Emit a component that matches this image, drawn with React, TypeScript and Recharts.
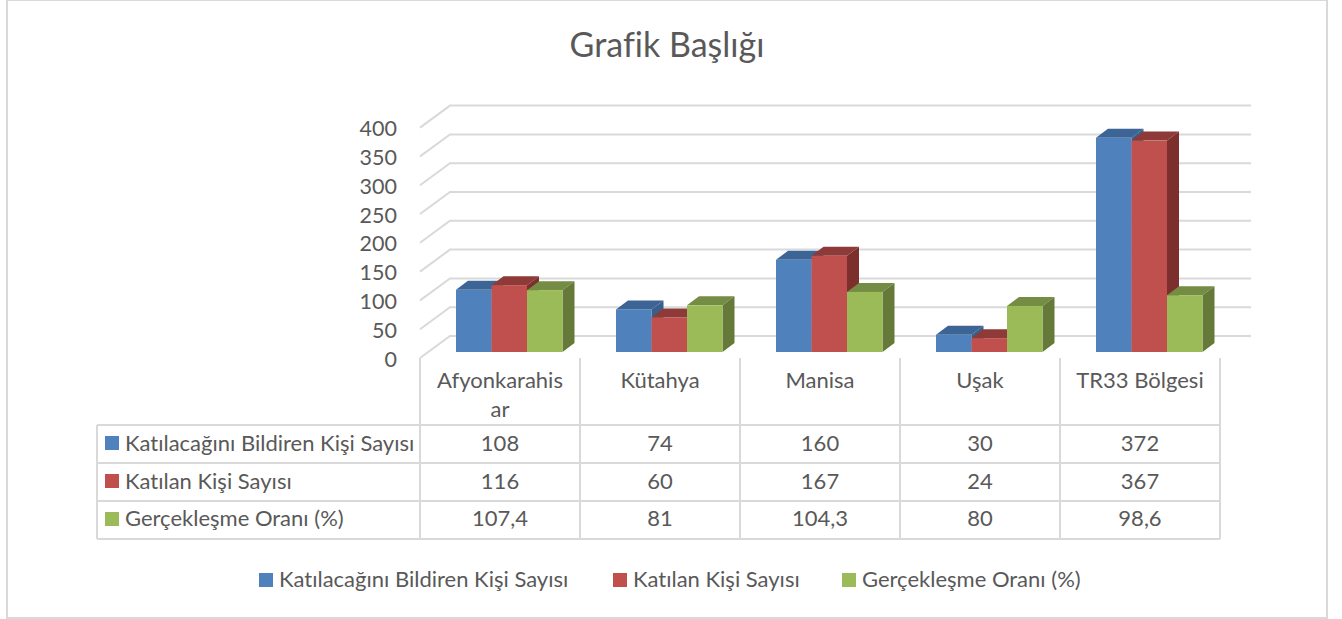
import { Bar, BarChart, CartesianGrid, XAxis, YAxis } from "recharts";

const categories = ["Afyonkarahisar", "Kütahya", "Manisa", "Uşak", "TR33 Bölgesi"];
const declared = [108, 74, 160, 30, 372];
const attended = [116, 60, 167, 24, 367];
const rate = [107.4, 81, 104.3, 80, 98.6];
const yTicks = [0, 50, 100, 150, 200, 250, 300, 350, 400];

const series = [
  { key: "declared", name: "Katılacağını Bildiren Kişi Sayısı", values: declared, front: "#4f81bd", top: "#3c6494", side: "#3a5f8b" },
  { key: "attended", name: "Katılan Kişi Sayısı", values: attended, front: "#c0504d", top: "#8e3a38", side: "#7c2f2d" },
  { key: "rate", name: "Gerçekleşme Oranı (%)", values: rate, front: "#9bbb59", top: "#748c43", side: "#657a39" },
];

const data = categories.map((name, i) => ({
  name,
  declared: declared[i],
  attended: attended[i],
  rate: rate[i],
}));

const FONT = "Lato, 'Open Sans', sans-serif";
const TEXT = "#595959";
const LINE = "#d9d9d9";
const DEPTH_X = 12;
const DEPTH_Y = 9;
const columnX = [420, 580, 740, 900, 1060, 1220];
const rowY = [425, 463, 501, 539];
const legendX = [259, 613, 842];

function Bar3D({ x, y, width, height, front, top, side }: any) {
  const b = y + height;
  const r = x + width;
  return (
    <g>
      <path d={`M${x} ${y}L${x + DEPTH_X} ${y - DEPTH_Y}L${r + DEPTH_X} ${y - DEPTH_Y}L${r} ${y}Z`} fill={top} />
      <path d={`M${r} ${y}L${r + DEPTH_X} ${y - DEPTH_Y}L${r + DEPTH_X} ${b - DEPTH_Y}L${r} ${b}Z`} fill={side} />
      <rect x={x} y={y} width={width} height={height} fill={front} />
    </g>
  );
}

// back wall line plus the slanted bit on the left wall
function WallLine({ x1, x2, y1 }: any) {
  return (
    <g stroke={LINE} strokeWidth={2} fill="none">
      <path d={`M${x1 - 9} ${y1 + 6}L${x1 + 21} ${y1 - 16}L${x2 + 22} ${y1 - 16}`} />
    </g>
  );
}

function YTick({ x, y, payload }: any) {
  return (
    <text x={x - 24} y={y + 14.5} textAnchor="end" fontFamily={FONT} fontSize={21.5} fill={TEXT}>
      {payload.value}
    </text>
  );
}

function XTick({ x, y, payload }: any) {
  const name: string = payload.value;
  const lines = name.length > 12 ? [name.slice(0, 12), name.slice(12)] : [name];
  return (
    <text x={x - 9} y={y + 28} textAnchor="middle" fontFamily={FONT} fontSize={22} fill={TEXT}>
      {lines.map((l, i) => (
        <tspan key={i} x={x - 9} dy={i === 0 ? 0 : 29}>
          {l}
        </tspan>
      ))}
    </text>
  );
}

function Swatch({ left, top, color }: any) {
  return <div style={{ position: "absolute", left, top, width: 14, height: 14, background: color }} />;
}

function Label({ left, top, width, align, children }: any) {
  return (
    <div
      style={{
        position: "absolute",
        left,
        top,
        width,
        height: 30,
        lineHeight: "30px",
        fontSize: 22,
        textAlign: align,
        whiteSpace: "nowrap",
      }}
    >
      {children}
    </div>
  );
}

function DataTable() {
  const hLine = (y: number, left: number, right: number) => (
    <div key={`h${y}`} style={{ position: "absolute", left, top: y - 1, width: right - left, height: 2, background: LINE }} />
  );
  const vLine = (x: number, top: number, bottom: number) => (
    <div key={`v${x}`} style={{ position: "absolute", left: x - 1, top, width: 2, height: bottom - top, background: LINE }} />
  );
  return (
    <>
      {rowY.map((y) => hLine(y, 97, 1220))}
      {vLine(97, 425, 539)}
      {columnX.map((x) => vLine(x, 358, 539))}
      {series.map((s, r) => (
        <div key={s.key}>
          <Swatch left={105} top={rowY[r] + 11} color={s.front} />
          <Label left={125} top={rowY[r] + 3 - r * 0.5} align="left">
            {s.name}
          </Label>
          {s.values.map((v, c) => (
            <Label key={c} left={columnX[c]} top={rowY[r] + 3 - r * 0.5} width={160} align="center">
              {String(v).replace(".", ",")}
            </Label>
          ))}
        </div>
      ))}
    </>
  );
}

export default function App() {
  return (
    <div
      style={{
        position: "absolute",
        left: 0,
        top: 0,
        width: 1342,
        height: 619,
        background: "#fff",
        overflow: "hidden",
        fontFamily: FONT,
        fontVariantLigatures: "none",
        color: TEXT,
      }}
    >
      <div style={{ position: "absolute", left: 6, top: -1, width: 1321.5, height: 620, border: `2px solid ${LINE}`, boxSizing: "border-box" }} />
      <div style={{ position: "absolute", left: 0, width: 1334, top: 20, textAlign: "center", fontSize: 34, lineHeight: "48px" }}>
        Grafik Başlığı
      </div>
      <DataTable />
      <div style={{ position: "absolute", left: 0, top: 0 }}>
        <BarChart
          width={1342}
          height={619}
          data={data}
          margin={{ top: 121.6, right: 113, bottom: 197, left: 369 }}
          barSize={35.5}
          barGap={0}
        >
          <CartesianGrid vertical={false} horizontal={(p: any) => <WallLine key={p.key} {...p} />} />
          <XAxis dataKey="name" height={70} axisLine={false} tickLine={false} tick={<XTick />} interval={0} />
          <YAxis width={60} domain={[0, 400]} ticks={yTicks} axisLine={false} tickLine={false} tick={<YTick />} interval={0} />
          {series.map((s) => (
            <Bar
              key={s.key}
              dataKey={s.key}
              name={s.name}
              fill={s.front}
              isAnimationActive={false}
              shape={(p: any) => <Bar3D {...p} front={s.front} top={s.top} side={s.side} />}
            />
          ))}
        </BarChart>
      </div>
      {series.map((s, i) => (
        <div key={s.key}>
          <Swatch left={legendX[i]} top={573} color={s.front} />
          <Label left={legendX[i] + 20} top={564} align="left">
            {s.name}
          </Label>
        </div>
      ))}
    </div>
  );
}
